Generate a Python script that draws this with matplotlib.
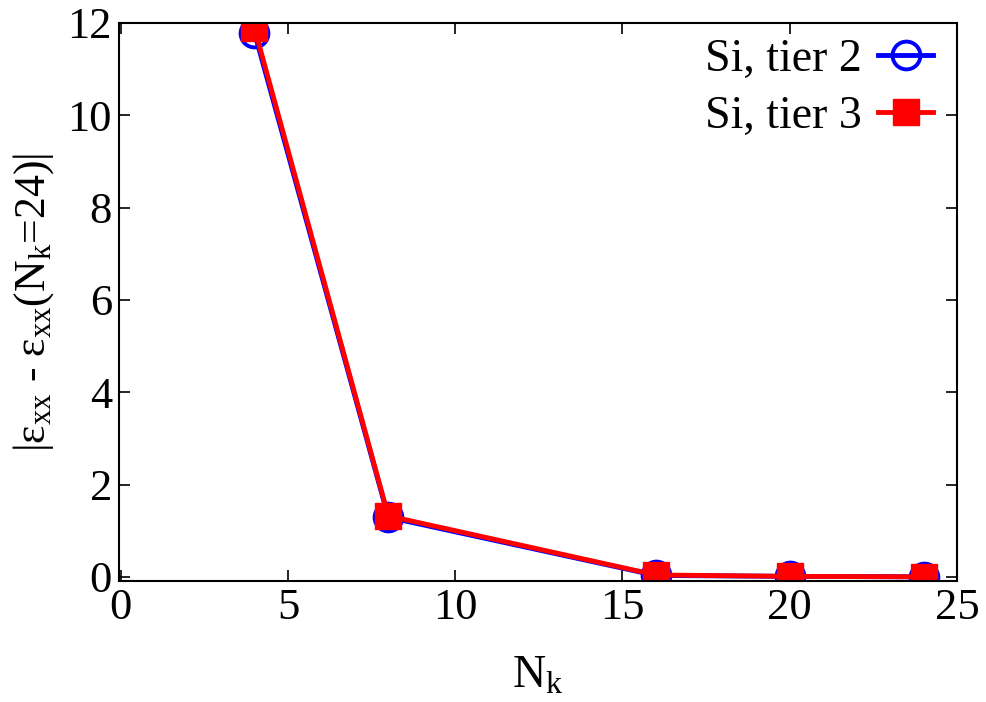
import matplotlib
matplotlib.use("Agg")
import matplotlib.pyplot as plt

nk = [4, 8, 16, 20, 24]
tier2 = [11.79, 1.29, 0.03, 0.01, 0.0]
tier3 = [11.89, 1.32, 0.04, 0.01, 0.0]
xticks = [0, 5, 10, 15, 20, 25]
yticks = [0, 2, 4, 6, 8, 10, 12]

plt.rcParams['font.family'] = ['Liberation Serif', 'DejaVu Serif']
plt.rcParams['mathtext.fontset'] = 'custom'
plt.rcParams['mathtext.rm'] = 'Liberation Serif'
plt.rcParams['mathtext.it'] = 'Liberation Serif:italic'
plt.rcParams['mathtext.bf'] = 'Liberation Serif:bold'

fig = plt.figure(figsize=(9.86, 7.02), dpi=100)
ax = fig.add_axes([0.1207, 0.1724, 0.8499, 0.7949])

ax.plot(nk, tier2, color='#0000ff', lw=3.5, marker='o', ms=20, mfc='none',
        mec='#0000ff', mew=2.8, label='Si, tier 2')
ax.plot(nk, tier3, color='#ff0000', lw=3.5, marker='s', ms=19,
        mfc='#ff0000', mec='#ff0000', label='Si, tier 3')

ax.set_xlim(-0.05, 25)
ax.set_ylim(-0.09, 12)
ax.set_xticks(xticks)
ax.set_yticks(yticks)
ax.tick_params(direction='in', length=8, width=1.2, top=True, right=True,
               labelsize=32, pad=5)
for s in ax.spines.values():
    s.set_linewidth(1.5)

ax.set_xlabel('N$_{\\mathrm{k}}$', fontsize=33, labelpad=20)
ax.set_ylabel('|ε$_{\\mathrm{xx}}$ - ε$_{\\mathrm{xx}}$(N$_{\\mathrm{k}}$=24)|',
              fontsize=31.5, labelpad=8)

leg = ax.legend(loc='upper right', bbox_to_anchor=(0.9905, 1.0),
                frameon=False, markerfirst=False,
                fontsize=33, handlelength=1.2, handletextpad=0.35,
                labelspacing=0.3, borderpad=0.1, borderaxespad=0.25)

fig.savefig('out.png', dpi=100)
